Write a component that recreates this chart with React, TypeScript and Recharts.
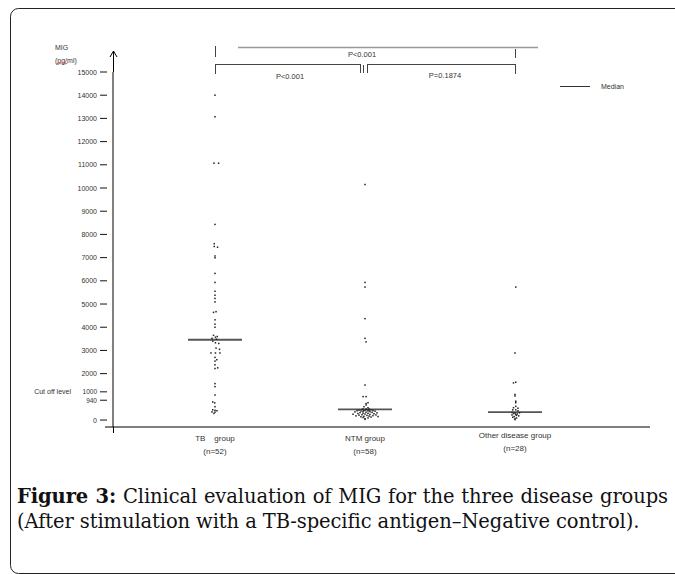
import React from 'react';
import { ScatterChart, Scatter, XAxis, YAxis, ReferenceLine } from 'recharts';

// ---- data ----
const categories = ['TB    group', 'NTM group', 'Other disease group'];
const groupSizes = ['(n=52)', '(n=58)', '(n=28)'];

const yTicks = [0, 940, 1000, 2000, 3000, 4000, 5000, 6000, 7000, 8000, 9000, 10000, 11000, 12000, 13000, 14000, 15000];

const tbValues = [14000, 13070, 11070, 11070, 8430, 7600, 7480, 7450, 7070, 6990, 6320, 5930, 5550, 5380, 5240, 5090, 4670, 4640, 4320, 4130, 4000, 3650, 3600, 3570, 3520, 3480, 3400, 3330, 3300, 3100, 3050, 2890, 2890, 2890, 2700, 2600, 2540, 2380, 2250, 2220, 1570, 1440, 1080, 780, 740, 575, 440, 420, 400, 350, 340, 285];
const tbJitter = [0, 0, -0.007, 0.024, 0, -0.005, -0.005, 0.017, 0, 0, 0, 0, 0, 0, 0, 0, 0.007, -0.01, 0, 0, 0, -0.01, 0.015, 0.003, -0.02, 0.01, -0.015, 0.003, 0.025, 0.007, 0.03, -0.027, 0.003, 0.033, 0, 0.012, 0, 0, 0.018, 0, 0, 0, 0, -0.015, -0.002, 0, -0.015, 0, 0.013, -0.02, 0, -0.007];

const ntmValues = [10150, 5930, 5730, 4370, 3520, 3370, 1510, 1010, 1010, 750, 710, 650, 575, 530, 480, 480, 480, 450, 445, 440, 430, 425, 420, 410, 405, 400, 395, 390, 385, 370, 360, 350, 340, 330, 320, 310, 300, 290, 280, 270, 260, 250, 240, 230, 220, 210, 200, 190, 180, 170, 160, 150, 140, 130, 110, 90, 60, 30];
const ntmJitter = [0, 0, 0, 0, 0, 0.007, 0, -0.013, 0.007, 0.02, 0.007, 0.007, -0.007, 0.02, -0.013, 0.007, 0.027, -0.02, 0.013, 0.04, -0.04, 0, 0.027, -0.007, 0.053, -0.053, 0.02, -0.027, 0.067, -0.013, 0.033, -0.067, 0.007, 0.047, -0.033, 0.08, -0.013, 0.02, -0.047, 0.06, 0, -0.08, 0.033, -0.02, 0.073, -0.04, 0.013, 0.053, -0.06, 0.027, -0.007, 0.087, -0.027, 0.04, -0.013, 0.02, 0, 0];

const otherValues = [5730, 2890, 1630, 1600, 1100, 1040, 810, 750, 590, 530, 510, 440, 440, 400, 330, 310, 300, 280, 260, 240, 220, 200, 180, 150, 120, 90, 60, 20];
const otherJitter = [0.005, 0, 0.005, -0.01, 0, 0, 0.005, 0.005, 0.005, -0.01, 0.02, -0.015, 0.005, 0.02, -0.02, 0.03, 0, -0.01, 0.015, 0.005, -0.02, 0.01, 0.025, -0.005, -0.015, 0.01, 0, 0];

const medians = [3460, 460, 340];

const pValues = ['P<0.001', 'P<0.001', 'P=0.1874'];

// ---- build series ----
const toPoints = (vals: number[], jit: number[], cat: number) =>
  vals.map((v, i) => ({ x: cat + (jit[i] || 0), y: v }));

const tbData = toPoints(tbValues, tbJitter, 1);
const ntmData = toPoints(ntmValues, ntmJitter, 2);
const otherData = toPoints(otherValues, otherJitter, 3);

const FONT = '"Liberation Sans", Arial, sans-serif';
const TXT = '#333';

const Dot = (p: any) => (
  <rect x={p.cx - 0.75} y={p.cy - 0.75} width={1.5} height={1.5} fill="#222" />
);

const YTick = (props: any) => {
  const { x, y, payload } = props;
  const v = payload.value;
  const dy = v === 1000 ? -5 : v === 940 ? 2 : 0;
  return (
    <g>
      {v === 1000 && (
        <text x={x - 42} y={y + dy} textAnchor="end" dominantBaseline="central" fontSize={7} fontFamily={FONT} fill={TXT}>
          Cut off level
        </text>
      )}
      <text x={x - 16} y={y + dy} textAnchor="end" dominantBaseline="central" fontSize={v === 940 || v === 1000 ? 6.5 : 7} fontFamily={FONT} fill={TXT}>
        {v}
      </text>
      <line x1={x - 13} x2={x - 6} y1={y + dy} y2={y + dy} stroke="#111" strokeWidth={1} />
    </g>
  );
};

const XTick = (props: any) => {
  const { x, y, payload } = props;
  const i = Math.round(payload.value) - 1;
  const dy = i === 2 ? -3 : 0;
  return (
    <g>
      <text x={x} y={y + 11 + dy} textAnchor="middle" dominantBaseline="central" fontSize={8} fontFamily={FONT} fill={TXT} style={{ whiteSpace: 'pre' }}>
        {categories[i]}
      </text>
      <text x={x} y={y + 24 + dy} textAnchor="middle" dominantBaseline="central" fontSize={8} fontFamily={FONT} fill={TXT}>
        {groupSizes[i]}
      </text>
    </g>
  );
};

export default function App() {
  return (
    <div style={{ position: 'absolute', left: 0, top: 0, width: 675, height: 574, background: '#fff' }}>
      <ScatterChart width={675} height={574} margin={{ top: 72, right: 25, bottom: 117, left: 0 }}>
        <XAxis
          type="number"
          dataKey="x"
          domain={[0.32, 3.9]}
          ticks={[1, 2, 3]}
          interval={0}
          tick={<XTick />}
          tickLine={false}
          tickSize={0}
          tickMargin={0}
          height={30}
          axisLine={{ stroke: '#000', strokeWidth: 1 }}
          allowDataOverflow
        />
        <YAxis
          type="number"
          dataKey="y"
          domain={[-300, 15000]}
          ticks={yTicks}
          interval={0}
          tick={<YTick />}
          tickLine={false}
          tickSize={0}
          tickMargin={0}
          width={113}
          axisLine={{ stroke: '#000', strokeWidth: 1 }}
          allowDataOverflow
        />
        {medians.map((m, i) => (
          <ReferenceLine
            key={i}
            segment={[{ x: i + 1 - 0.18, y: m }, { x: i + 1 + 0.18, y: m }]}
            stroke="#555"
            strokeWidth={1.8}
          />
        ))}
        <Scatter data={tbData} shape={<Dot />} isAnimationActive={false} />
        <Scatter data={ntmData} shape={<Dot />} isAnimationActive={false} />
        <Scatter data={otherData} shape={<Dot />} isAnimationActive={false} />
      </ScatterChart>

      <svg width={675} height={574} style={{ position: 'absolute', left: 0, top: 0, pointerEvents: 'none' }}>
        {/* frame */}
        <rect x={10.5} y={8.5} width={700} height={565} rx={8} fill="none" stroke="#222" strokeWidth={1} />
        {/* axis title */}
        <text x={55} y={47} fontSize={7} fontFamily={FONT} fill={TXT} dominantBaseline="central">MIG</text>
        <text x={55} y={60} fontSize={7} fontFamily={FONT} fill={TXT} dominantBaseline="central">(pg/ml)</text>
        <polyline points="57,64 58.5,63 60,64 61.5,63 63,64 64.5,63 66,64 67.5,63" fill="none" stroke="#e03030" strokeWidth={0.8} />
        {/* y axis arrow & extensions */}
        <line x1={113.5} y1={51} x2={113.5} y2={72} stroke="#000" />
        <polyline points="110,57 113.5,51 117,57" fill="none" stroke="#000" />
        <line x1={113.5} y1={427} x2={113.5} y2={433} stroke="#000" />
        <line x1={105} y1={427} x2={113} y2={427} stroke="#000" />
        {/* top bracket */}
        <line x1={215.5} y1={46} x2={215.5} y2={57} stroke="#444" />
        <line x1={238} y1={47.5} x2={538} y2={47.5} stroke="#999" strokeWidth={1.5} />
        <line x1={515.5} y1={49} x2={515.5} y2={58} stroke="#444" />
        <text x={362} y={54.5} textAnchor="middle" dominantBaseline="central" fontSize={7.5} fontFamily={FONT} fill={TXT}>{pValues[0]}</text>
        {/* lower brackets */}
        <line x1={215} y1={64.5} x2={361} y2={64.5} stroke="#444" />
        <line x1={215.5} y1={64} x2={215.5} y2={74} stroke="#444" />
        <line x1={360.5} y1={65} x2={360.5} y2={73} stroke="#444" />
        <line x1={363.5} y1={65} x2={363.5} y2={73} stroke="#444" />
        <line x1={367} y1={64.5} x2={515} y2={64.5} stroke="#444" />
        <line x1={367.5} y1={65} x2={367.5} y2={73} stroke="#444" />
        <line x1={515.5} y1={64} x2={515.5} y2={74} stroke="#444" />
        <text x={290} y={76} textAnchor="middle" dominantBaseline="central" fontSize={7.5} fontFamily={FONT} fill={TXT}>{pValues[1]}</text>
        <text x={445} y={75.5} textAnchor="middle" dominantBaseline="central" fontSize={7.5} fontFamily={FONT} fill={TXT}>{pValues[2]}</text>
        {/* legend */}
        <line x1={560} y1={86.5} x2={590} y2={86.5} stroke="#333" />
        <text x={601} y={86.5} dominantBaseline="central" fontSize={7} fontFamily={FONT} fill={TXT}>Median</text>
      </svg>

      <div
        style={{
          position: 'absolute',
          left: 17,
          top: 484,
          width: 651,
          fontFamily: '"DejaVu Serif", "Liberation Serif", serif',
          fontSize: 19.5,
          lineHeight: '25px',
          color: '#111',
          letterSpacing: -0.1,
        }}
      >
        <div style={{ textAlign: 'justify', textAlignLast: 'justify', whiteSpace: 'nowrap', overflow: 'visible' }}>
          <span style={{ fontWeight: 'bold' }}>Figure 3:</span> Clinical evaluation of MIG for the three disease groups
        </div>
        <div style={{ whiteSpace: 'nowrap' }}>
          (After stimulation with a TB-specific antigen–Negative control).
        </div>
      </div>
    </div>
  );
}
